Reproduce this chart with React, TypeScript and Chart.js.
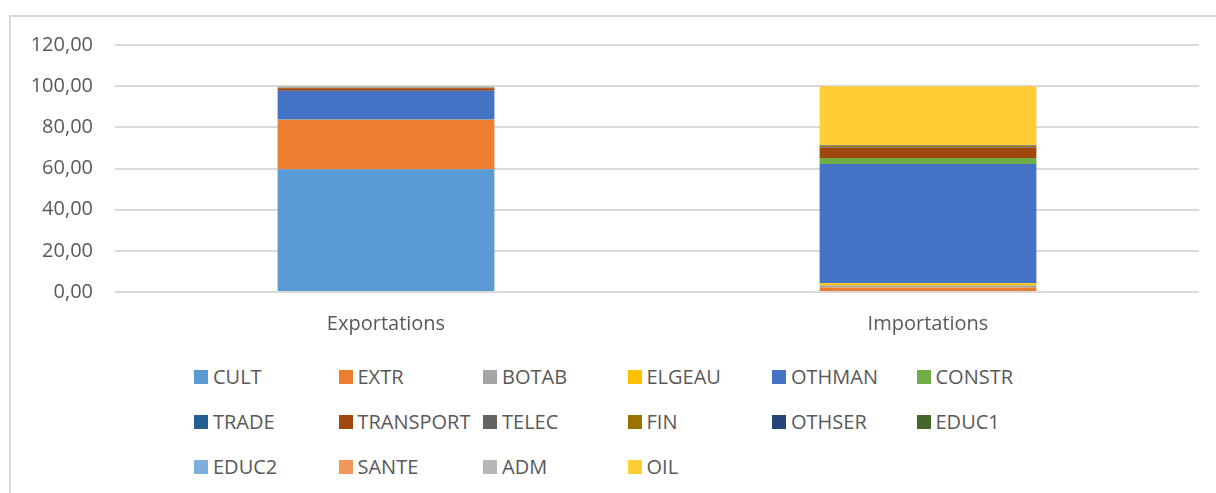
import React, { useEffect, useRef } from "react";
import { Chart, registerables } from "chart.js";

Chart.register(...registerables);

const categories = ["Exportations", "Importations"];
const seriesNames = ["CULT", "EXTR", "BOTAB", "ELGEAU", "OTHMAN", "CONSTR", "TRADE", "TRANSPORT", "TELEC", "FIN", "OTHSER", "EDUC1", "EDUC2", "SANTE", "ADM", "OIL"];
const CULT = [59.6, 0.5];
const EXTR = [24.0, 1.7];
const BOTAB = [0.4, 1.0];
const ELGEAU = [0.0, 1.0];
const OTHMAN = [13.8, 58.0];
const CONSTR = [0.0, 2.9];
const TRADE = [0.0, 0.0];
const TRANSPORT = [1.2, 5.0];
const TELEC = [0.2, 0.3];
const FIN = [0.2, 0.6];
const OTHSER = [0.0, 0.3];
const EDUC1 = [0.0, 0.0];
const EDUC2 = [0.0, 0.0];
const SANTE = [0.0, 0.0];
const ADM = [0.6, 0.1];
const OIL = [0.0, 28.6];
const seriesValues = [CULT, EXTR, BOTAB, ELGEAU, OTHMAN, CONSTR, TRADE, TRANSPORT, TELEC, FIN, OTHSER, EDUC1, EDUC2, SANTE, ADM, OIL];
const colors = ["#5B9BD5", "#ED7D31", "#A5A5A5", "#FFC000", "#4472C4", "#70AD47", "#255E91", "#9E480E", "#636363", "#997300", "#264478", "#43682B", "#7CAFDD", "#F1975A", "#B7B7B7", "#FFCD33"];
const yMin = 0;
const yMax = 120;
const yStep = 20;

const FONT = "'Open Sans', sans-serif";
const TEXT = "#595959";

export default function App() {
  const ref = useRef<HTMLCanvasElement | null>(null);
  useEffect(() => {
    if (!ref.current) return;
    const chart = new Chart(ref.current, {
      type: "bar",
      data: {
        labels: categories,
        datasets: seriesNames.map((n, i) => ({
          label: n,
          data: seriesValues[i],
          backgroundColor: colors[i],
          borderWidth: 0,
          categoryPercentage: 1,
          barPercentage: 0.4,
        })),
      },
      options: {
        animation: false,
        responsive: false,
        maintainAspectRatio: false,
        layout: { padding: { left: 0, right: 17, top: 45, bottom: 0 } },
        plugins: { legend: { display: false }, tooltip: { enabled: false } },
        scales: {
          x: {
            stacked: true,
            grid: { display: false, drawTicks: false },
            border: { display: false },
            ticks: { font: { family: FONT, size: 20 }, color: TEXT, padding: 20 },
            afterFit: (s: any) => { s.height = 48; },
          },
          y: {
            stacked: true,
            min: yMin,
            max: yMax,
            ticks: {
              stepSize: yStep,
              padding: 22,
              font: { family: FONT, size: 20 },
              color: TEXT,
              callback: (v: any) => Number(v).toFixed(2).replace(".", ","),
            },
            grid: { color: "#D9D9D9", lineWidth: 2, drawTicks: false },
            border: { display: false },
            afterFit: (s: any) => { s.width = 115; },
          },
        },
      },
    });
    return () => chart.destroy();
  }, []);

  const colX = [194, 338.5, 483, 627.5, 772, 916.5];
  const rowY = [377, 422, 466.5];

  return (
    <div style={{ position: "fixed", left: 0, top: 0, width: 1216, height: 493, overflow: "hidden", background: "#fff" }}>
      <div style={{ position: "absolute", left: 9, top: 15, width: 1400, height: 700, borderLeft: "2px solid #D9D9D9", borderTop: "2px solid #D9D9D9" }} />
      <canvas ref={ref} width={1216} height={340} style={{ position: "absolute", left: 0, top: 0, width: 1216, height: 340 }} />
      {seriesNames.map((n, i) => {
        const c = i % 6;
        const r = Math.floor(i / 6);
        return (
          <div key={n} style={{ position: "absolute", left: colX[c], top: rowY[r] - 14, height: 28, display: "flex", alignItems: "center", whiteSpace: "nowrap" }}>
            <span style={{ display: "inline-block", width: 14, height: 14, background: colors[i], marginRight: 5 }} />
            <span style={{ fontFamily: FONT, fontSize: 20, color: TEXT, lineHeight: "28px" }}>{n}</span>
          </div>
        );
      })}
    </div>
  );
}
